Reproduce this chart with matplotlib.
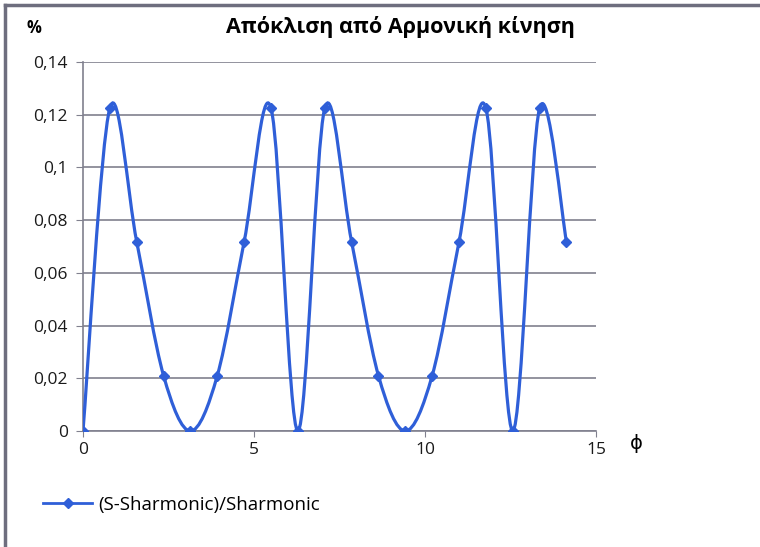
import numpy as np
import matplotlib
matplotlib.use("Agg")
import matplotlib.pyplot as plt
from matplotlib.path import Path
from matplotlib.patches import PathPatch
from matplotlib.lines import Line2D
from matplotlib.ticker import FuncFormatter

plt.rcParams['font.family'] = ['Open Sans', 'DejaVu Sans']

phi = [0.0, 0.785, 1.571, 2.356, 3.142, 3.927, 4.712, 5.498, 6.283, 7.069,
       7.854, 8.639, 9.425, 10.210, 10.996, 11.781, 12.566, 13.352, 14.137]
deviation = [0.0, 0.1225, 0.0718, 0.0210, 0.0, 0.0210, 0.0718, 0.1225, 0.0, 0.1225,
             0.0718, 0.0210, 0.0, 0.0210, 0.0718, 0.1225, 0.0, 0.1225, 0.0718]
y_ticks = [0, 0.02, 0.04, 0.06, 0.08, 0.1, 0.12, 0.14]
x_ticks = [0, 5, 10, 15]

blue = '#2f5fd8'
grey = '#80808e'


def smooth_path(x, y):
    # cubic bezier through the points, excel-style smoothed line
    p = np.column_stack([x, y])
    n = len(p)
    verts = [p[0]]
    codes = [Path.MOVETO]
    for i in range(n - 1):
        prev = p[i - 1] if i > 0 else p[i]
        nxt = p[i + 2] if i + 2 < n else p[i + 1]
        c1 = p[i] + (p[i + 1] - prev) / 6
        c2 = p[i + 1] - (nxt - p[i]) / 6
        verts += [c1, c2, p[i + 1]]
        codes += [Path.CURVE4] * 3
    return Path(verts, codes)


fig = plt.figure(figsize=(7.6, 5.47), dpi=100)
ax = fig.add_axes([0.1092, 0.2121, 0.675, 0.6746])

ax.add_patch(PathPatch(smooth_path(phi, deviation), fill=False,
                       edgecolor=blue, lw=2.3, zorder=3))
ax.plot(phi, deviation, linestyle='none', marker='D', ms=5.5,
        color=blue, zorder=4)

ax.set_xlim(0, 15)
ax.set_ylim(0, 0.14)
ax.set_xticks(x_ticks)
ax.set_yticks(y_ticks)
ax.yaxis.set_major_formatter(FuncFormatter(lambda v, _: ('%g' % v).replace('.', ',')))
ax.grid(axis='y', color=grey, lw=1.2)
ax.set_axisbelow(True)
for s in ['top', 'right']:
    ax.spines[s].set_visible(False)
for s in ['left', 'bottom']:
    ax.spines[s].set_color(grey)
    ax.spines[s].set_linewidth(1.2)
ax.tick_params(axis='y', length=5, color=grey, labelsize=12.5, pad=6,
               labelcolor='#1a1a1a')
ax.tick_params(axis='x', length=4, color=grey, labelsize=12.5, pad=4,
               labelcolor='#1a1a1a')

fig.text(0.527, 0.95, 'Απόκλιση από Αρμονική κίνηση', ha='center', va='center',
         fontsize=15.5, fontweight='bold')
fig.text(0.044, 0.948, '%', ha='center', va='center', fontsize=12, fontweight='bold')
fig.text(0.837, 0.19, 'ϕ', ha='center', va='center', fontsize=14)

handle = Line2D([], [], color=blue, lw=2, marker='D', ms=5)
fig.legend([handle], ['(S-Sharmonic)/Sharmonic'], loc='center left',
           bbox_to_anchor=(0.035, 0.077), frameon=False, fontsize=13.5,
           handlelength=2.6, handletextpad=0.3)

# frame around the chart area
fig.add_artist(Line2D([0.007, 1.0], [0.991, 0.991], color='#6e6e7e', lw=2.5))
fig.add_artist(Line2D([0.007, 0.007], [0.0, 0.991], color='#6e6e7e', lw=2.5))

fig.savefig('out.png', dpi=100)
